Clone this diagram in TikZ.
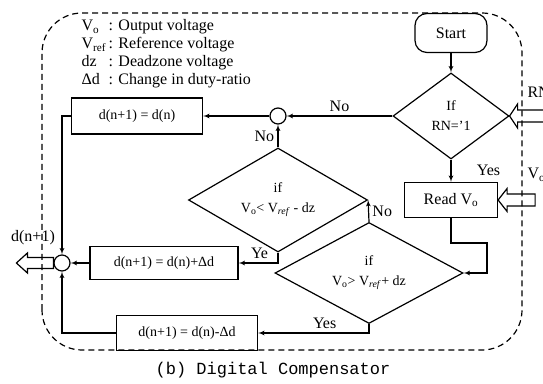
\documentclass[tikz,border=0pt]{standalone}
\usepackage{fontspec}
\setmainfont{Liberation Serif}
\setmonofont{Liberation Mono}
\usetikzlibrary{shapes,arrows}
\tikzstyle{decision} = [diamond, draw, line width=1.2pt, shape aspect=2, align=center, inner sep=0pt, font=\fontsize{14}{20}\selectfont]
\tikzstyle{block} = [rectangle, draw, line width=1.2pt, text centered, inner sep=2pt, font=\fontsize{14}{16}\selectfont]
\tikzstyle{terminal} = [rectangle, draw, line width=1.2pt, rounded corners=12pt, minimum width=72pt, minimum height=39pt, font=\fontsize{16}{18}\selectfont]
\tikzstyle{junction} = [circle, draw, line width=1.2pt, minimum size=16pt, inner sep=0pt]
\tikzstyle{hollow} = [draw, line width=1.2pt, fill=white, line join=miter]
\tikzstyle{lbl} = [font=\fontsize{16}{18}\selectfont]
\tikzstyle{line} = [draw, line width=1.2pt, -latex']

\begin{document}
\begin{tikzpicture}[x=1pt, y=1pt, node distance=84pt]
    \useasboundingbox (0,0) rectangle (543,383);
    \node [lbl, anchor=west] (key) at (78,329) {\begin{tabular}{@{}l@{\,}l@{}}
      V\textsubscript{o} & : Output voltage\\
      V\textsubscript{ref} & : Reference voltage\\
      dz & : Deadzone voltage\\
      Δd & : Change in duty-ratio
    \end{tabular}};
    \node [terminal] (start) at (451,350) {Start};
    \node [decision, below of=start, node distance=83pt, minimum width=116pt, minimum height=86pt] (ifrn) {If\\RN=’1};
    \node [block, below of=ifrn, minimum width=93pt, minimum height=35pt, font=\fontsize{16}{18}\selectfont] (readvo) {Read V\textsubscript{o}};
    \node [junction, left of=ifrn, node distance=173pt] (sumtop) {};
    \node [block, left of=sumtop, node distance=141pt, minimum width=131pt, minimum height=36pt] (keep) {d(n+1) = d(n)};
    \node [decision, below of=sumtop, minimum width=179pt, minimum height=104pt] (iflow) {if\\V\textsubscript{o}< V\textsubscript{\textit{ref}} - dz};
    \node [decision, below of=readvo, node distance=73pt, xshift=-82pt, minimum width=188pt, minimum height=101pt] (ifhigh) {if\\V\textsubscript{o}> V\textsubscript{\textit{ref}}+ dz};
    \node [block, left of=ifhigh, node distance=205pt, yshift=10pt, minimum width=148pt, minimum height=33pt] (inc) {d(n+1) = d(n)+Δd};
    \node [junction, left of=inc, node distance=102pt] (sumout) {};
    \node [block, below of=inc, node distance=70pt, xshift=23pt, minimum width=141pt, minimum height=35pt] (dec) {d(n+1) = d(n)-Δd};
    % inputs and output (hollow arrows)
    \draw [hollow] (ifrn.east) -- ++(8,12) -- ++(0,-6) -- ++(40,0) -- ++(0,-12) -- ++(-40,0) -- ++(0,-6) -- cycle;
    \draw [hollow] (readvo.east) -- ++(9,11.5) -- ++(0,-5.5) -- ++(28,0) -- ++(0,-12) -- ++(-28,0) -- ++(0,-5.5) -- cycle;
    \draw [hollow] (sumout.west) -- ++(0,5.5) -- ++(-26,0) -- ++(0,4.5) -- ++(-11,-10) -- ++(11,-10) -- ++(0,4.5) -- ++(26,0) -- cycle;
    \node [lbl, anchor=west] (rnlbl) at (524,291) {RN};
    \node [lbl, anchor=west] (volbl) at (524,208) {V\textsubscript{o}};
    \node [lbl] (outlbl) at (33,145) {d(n+1)};
    \node [font=\fontsize{17}{20}\selectfont\ttfamily] (caption) at (273,13) {(b) Digital Compensator};
    % connectors
    \path [line] (start) -- (ifrn);
    \path [line] (ifrn) -- node [lbl, above] {No} (sumtop);
    \path [line] (sumtop) -- (keep);
    \path [line] (keep.west) -| (sumout.north);
    \path [line] (ifrn) -- node [lbl, right, xshift=22pt] {Yes} (readvo);
    \path [line] (iflow) -- node [lbl, left] {No} (sumtop);
    \path [line] (ifhigh.north) -- node [lbl, right] {No} (iflow.east);
    \coordinate (turn) at (487,140);
    \path [line] (readvo.south) |- (turn) |- (ifhigh.east);
    \path [line] (iflow.south) |- node [lbl, pos=0.5, above left, xshift=-6pt] {Ye} (inc.east);
    \path [line] (inc) -- (sumout);
    \path [line] (ifhigh.south) |- node [lbl, pos=0.7, above] {Yes} (dec.east);
    \path [line] (dec.west) -| (sumout.south);
    \draw [dash pattern=on 6pt off 4pt, line width=1.2pt, rounded corners=40pt] (42,33) rectangle (522,370);
  \end{tikzpicture}
\end{document}
